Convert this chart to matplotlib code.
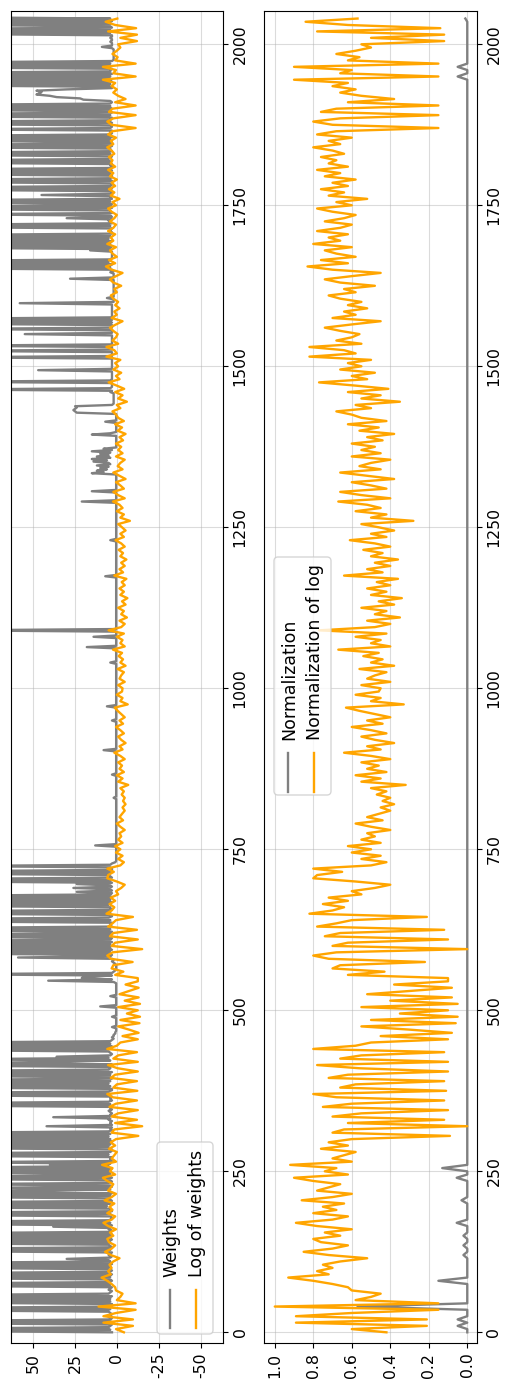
import matplotlib
matplotlib.use("Agg")
import matplotlib.pyplot as plt
from matplotlib.transforms import IdentityTransform
from matplotlib.patches import FancyBboxPatch
from matplotlib.lines import Line2D

H = 99  # weight value beyond the visible range (clipped at the panel edge)

# index positions: weights are read every 2 steps, the other series every 5
weight_index = list(range(0, 2043, 2))
index = list(range(0, 2045, 5))

weights = [
    3, H, 4, H, 5, 4, 3, H, 3, H, 4, 3, 5, 4, 3, 4, 5, H, 4, H, 4, 3, 3, H, 4,
    H, 4, H, 3, H, 5, 4, 3, 5, 4, 3, H, 4, H, 5, 3, 4, H, 4, H, 3, H, 4, 3, 5,
    H, 4, H, 3, H, 4, 5, 30, 4, 3, 5, 4, 3, H, 4, H, 3, 4, 5, H, 4, H, 3, H, 4,
    H, 3, H, 4, 3, 5, 4, 38, 3, H, 4, H, 5, 3, 3, 4, H, 4, H, 3, 4, 4, H, 6, H,
    4, H, 3, 4, 5, H, 4, H, 3, H, 45, 4, H, 3, 4, H, 5, 3, 4, H, 3, H, 5, 4, H,
    4, H, 3, H, 5, 40, 4, H, 3, 4, 4, 3, H, 5, H, 4, 3, 3, H, 5, H, 4, H, 3, H,
    4, H, 5, H, 4, H, 5, 3, 4, 3, 42, 3, 4, 4, 3, 5, 4, 38, 3, 4, 3, 4, 5, 3, 4,
    3, H, 4, H, 5, 3, 4, 4, 3, H, 4, H, 5, 3, 3, H, 4, H, 5, H, 4, H, 3, 4, H,
    4, H, 3, H, 5, 4, 4, H, 3, H, 30, 4, H, 5, 36, 4, 3, 4, 5, H, 4, H, 3, H, 4,
    H, 4, 3, 2, 3, 2, 2, 1, 1, .5, .5, .5, 3, .5, .5, .5, .5, .5, .5, .5, 3, .5, .5, .5, .5,
    .5, .5, .5, 10, .5, .5, .5, .5, .5, .5, .5, 4, .5, .5, .5, .5, .5, .5, .5, .5, .5, .5, 2, 41, 3,
    21, 20, 3, H, 3, 2, 1, .5, .5, .5, .5, 1, 2, 3, 2, 3, 59, 4, 3, H, 4, H, 3, H, 4,
    H, 4, H, 3, H, 4, 3, H, 4, H, 4, 3, H, 4, H, 3, 4, 4, 3, H, 4, H, 5, 3, 3,
    H, 4, H, 3, 4, 4, H, 5, H, 3, H, 4, H, 3, H, 4, 3, 24, 3, 4, 26, 3, 4, 24, 3,
    H, 4, H, 3, 4, 5, H, 4, H, 3, 3, 4, H, 4, 3, 1, .5, .5, .5, .5, .5, .5, .5, .5, .5,
    .5, .5, .5, 13, .5, .5, .5, .5, .5, .5, .5, .5, .5, .5, .5, .5, .5, .5, .5, .5, .5, .5, .5, .5, .5,
    .5, .5, .5, .5, .5, .5, .5, .5, .5, .5, .5, .5, .5, .5, .5, 2, .5, .5, .5, .5, .5, .5, .5, .5, .5,
    .5, .5, .5, .5, .5, .5, .5, .5, 3, .5, .5, .5, .5, .5, .5, .5, .5, .5, .5, .5, .5, .5, .5, .5, .5,
    .5, .5, 8, .5, .5, .5, .5, .5, .5, .5, .5, .5, .5, .5, .5, .5, .5, .5, .5, .5, .5, .5, .5, .5, .5,
    3, .5, .5, .5, .5, .5, .5, .5, .5, .5, .5, 6, .5, .5, .5, .5, .5, .5, .5, .5, .5, .5, .5, .5, .5,
    .5, .5, .5, .5, .5, .5, .5, .5, .5, .5, .5, .5, .5, .5, .5, .5, .5, .5, .5, .5, 4, .5, .5, .5, .5,
    .5, .5, .5, .5, .5, .5, .5, 18, .5, .5, .5, .5, .5, .5, .5, 14, .5, .5, .5, .5, H, .5, .5, .5, .5,
    .5, .5, .5, .5, .5, .5, .5, .5, .5, .5, .5, .5, .5, .5, .5, .5, .5, .5, .5, .5, .5, .5, .5, .5, .5,
    .5, .5, .5, .5, .5, .5, .5, .5, .5, .5, .5, .5, 7, .5, .5, .5, .5, .5, .5, .5, .5, .5, .5, .5, .5,
    .5, .5, .5, .5, .5, .5, .5, .5, .5, .5, .5, .5, .5, .5, .5, 4, .5, .5, .5, .5, .5, .5, .5, .5, .5,
    .5, .5, .5, .5, .5, .5, .5, .5, .5, .5, .5, .5, .5, .5, .5, .5, .5, .5, .5, .5, 21, .5, .5, .5, .5,
    .5, .5, .5, 15, .5, .5, .5, .5, .5, .5, .5, .5, .5, .5, .5, .5, .5, 15, 8, 12, 6, 10, 5, 12, 4,
    5, 14, 6, 15, 4, 12, 5, 10, 4, 15, 3, 8, .5, .5, .5, .5, .5, .5, .5, .5, .5, .5, 15, 4, .5,
    .5, .5, .5, .5, .5, .5, .5, 7, .5, .5, .5, .5, .5, .5, 24, 25, 26, 25, 24, 25, 3, 2, 2, 2, 2,
    2, 2, 2, 2, 2, 4, 3, H, 4, 3, 3, 3, 3, H, 4, 3, 3, 3, 3, 3, 3, 3, 47, 3, 3,
    3, 3, 3, 3, 3, 3, 3, H, 3, 3, 3, 3, H, 3, 3, 3, H, 3, 3, 3, 3, 3, 3, 3, 3,
    55, 3, 3, 3, H, 3, 3, 3, H, 3, H, 3, H, 3, 3, 3, 3, 3, 3, 3, 3, 3, 3, 3, 58,
    2, 2, 2, 6, 2, 2, 2, 2, 2, 2, 2, 2, 2, 2, 2, 2, 2, 2, 28, 2, 2, 2, 2, 4, 2,
    3, H, 4, H, 3, H, 5, H, 4, 3, 3, 3, 3, 3, 3, 16, 4, H, 3, H, 4, H, 3, H, 5,
    H, 4, H, 3, 3, 4, 4, 3, H, 4, H, 3, 4, 5, 3, 30, 3, 4, H, 3, 4, 4, H, 3, H,
    4, 3, H, 4, H, 3, 4, 3, 45, 4, 3, 4, H, 3, H, 4, 3, 4, H, 3, H, 4, 3, 3, H,
    4, H, 3, H, 4, 3, 4, 3, H, 4, H, 5, 4, 3, H, 4, H, 3, 4, 4, H, 3, H, 4, 3,
    H, 4, H, 3, H, 4, 3, 4, 3, H, 4, 3, 4, H, 3, H, 4, 4, 3, H, 4, H, 3, 4, H,
    3, H, 4, H, 4, 3, 4, 20, 22, 36, 40, 48, 46, 45, 48, 30, 3, 4, H, 4, H, 3, H, 4, H,
    4, H, 3, H, 4, 4, 3, H, 4, H, 4, H, 3, 2, 2, 2, 2, 2, 2, 2, 2, 2, 3, 9, 3,
    3, 3, 4, 3, 3, 4, 3, 3, H, 4, H, 4, H, 3, 4, H, 4, H, 3, H, 4, H,
]

log_weights = [
    -4.1, 0.6, -9.5, 8.1, -9.5, 8.1, 0.6, -11.1, 11.0, -11.1,
    0.1, -2.0, -3.3, 0.6, 1.1, 3.2, 5.8, 9.2, 3.7, 5.3,
    3.2, 4.5, 2.2, -1.5, 3.7, 7.1, 3.2, 1.1, 4.8, 5.8,
    2.2, 4.2, 0.6, 5.3, 8.1, 3.2, 1.1, 5.8, 2.7, 4.5,
    1.6, 7.4, 3.2, 0.6, 5.3, 3.7, 2.2, 5.8, 8.4, 1.1,
    4.2, 2.7, 8.9, 0.6, 3.2, 1.6, 0.1, 4.8, 1.1, 3.7,
    0.6, -12.7, 3.2, 1.6, -15.0, 1.1, -11.9, 3.2, -0.7, -12.4,
    4.5, 0.6, -11.9, 2.7, 5.8, -12.1, 2.2, 0.1, -11.9, 3.7,
    1.1, -12.4, -0.4, 5.3, -12.4, 2.2, -0.7, -11.9, 5.8, 0.1,
    -2.0, -12.4, -3.3, -12.9, -7.2, -0.7, -13.4, -2.0, -13.7, -5.9,
    -12.4, -0.7, -13.7, -4.6, -12.9, -1.5, -7.2, -12.9, -5.1, -12.4,
    -12.4, 1.1, -3.8, 3.2, 2.2, -9.3, 3.7, 5.8, 2.7, -15.0,
    3.2, 1.1, -12.4, 4.2, 2.2, -11.9, 5.3, 2.7, 0.6, -9.5,
    6.3, 3.2, 1.6, 4.5, 1.1, 3.7, -0.7, 0.6, -2.5, -4.6,
    0.1, 5.8, 5.3, 1.9, 5.8, -2.0, -4.1, -0.7, -3.3, 0.6,
    -2.0, 1.1, -3.3, -0.7, -2.5, -1.5, -4.6, -2.0, 0.1, -3.6,
    -1.5, -3.0, -4.6, -3.3, -5.1, -3.6, -4.6, -2.8, -4.1, -2.0,
    -6.7, -0.7, -3.3, 0.1, -4.1, -1.5, -3.0, -0.7, -4.6, -2.0,
    1.6, -3.3, -1.5, -5.1, -2.5, -0.7, -4.1, -2.0, 0.6, -3.6,
    -1.5, -4.6, -2.5, -0.4, 1.4, -6.4, -2.0, -3.3, 0.1, -3.0,
    -3.3, -0.7, -4.6, -1.5, -2.5, -4.1, -0.4, -5.1, -2.0, -3.6,
    -1.0, -3.0, 2.4, -4.6, -2.0, -3.3, 0.1, -4.1, 5.0, -2.5,
    -4.6, -1.5, -5.9, -2.5, -4.1, -0.7, -5.1, -3.0, -6.2, -2.0,
    -4.1, -1.5, -4.6, -2.8, -5.6, 1.6, -3.6, -1.5, -4.6, -2.5,
    -5.6, -2.0, -3.6, -1.0, -4.6, -2.5, 0.9, -4.1, -2.0, -5.1,
    -3.0, -0.7, -7.7, -2.0, -4.1, 0.1, -3.3, -1.5, 2.4, -4.6,
    -0.7, 2.2, -4.1, -2.0, 0.6, -5.1, -1.5, 2.2, -3.3, -0.4,
    -2.0, -4.6, 0.6, -3.3, -0.7, -2.5, 0.6, -3.6, -1.5, -5.1,
    -0.4, -3.0, 1.1, -4.1, -0.7, 0.6, 2.7, -2.0, 0.1, -5.9,
    -0.7, -3.3, 1.1, -4.3, 0.1, 5.0, -1.5, 0.6, -2.5, 2.2,
    -0.7, 1.1, -2.0, 6.3, 0.1, 1.6, 6.3, -0.7, 2.7, 0.6,
    -0.4, 2.2, 4.2, 0.6, -3.3, 3.2, 0.1, 1.6, -1.5, 1.1,
    -0.7, 2.2, 3.7, 0.1, 1.6, -2.5, 2.2, 4.2, 0.6, -3.3,
    3.2, 6.6, 1.1, 4.8, 0.1, 2.7, 4.2, 0.6, 5.8, 2.2,
    3.7, 1.1, 5.3, 2.2, 0.6, 4.2, 1.6, 0.1, 3.2, 5.3,
    0.6, 2.7, -1.5, 3.7, 1.6, 4.8, 1.1, 3.2, 0.1, 4.2,
    2.2, 5.3, 1.1, 3.7, 2.7, 4.8, 1.6, 3.2, 5.8, 2.2,
    3.7, 0.6, 5.3, 2.7, -11.1, 3.2, 5.8, 2.2, -11.1, 4.8,
    2.7, -11.1, 1.1, -5.1, -0.7, 2.2, 0.1, 3.2, 1.1, 8.4,
    -11.1, 2.2, 0.6, 8.4, -11.1, 1.1, -0.4, 2.7, 0.1, -2.0,
    -0.7, -11.9, -2.0, -11.9, 5.3, -11.4, 1.1, 6.8, -0.2,
]

norm_weights = [
    0, 0, .05, 0, .05, 0, 0, 0, .57, 0,
    0, 0, 0, 0, 0, 0, .15, 0, 0, 0,
    0, 0, 0, 0, .02, 0, 0, .02, 0, 0,
    .02, 0, 0, 0, .055, 0, 0, 0, 0, 0,
    0, .03, 0, 0, 0, 0, 0, 0, .055, 0,
    0, .13, 0, 0, 0, 0, 0, 0, 0, 0,
    0, 0, 0, 0, 0, 0, 0, 0, 0, 0,
    0, 0, 0, 0, 0, 0, 0, 0, 0, 0,
    0, 0, 0, 0, 0, 0, 0, 0, 0, 0,
    0, 0, 0, 0, 0, 0, 0, 0, 0, 0,
    0, 0, 0, 0, 0, 0, 0, 0, 0, 0,
    0, 0, 0, 0, 0, 0, 0, 0, 0, 0,
    0, 0, 0, 0, 0, 0, 0, 0, 0, 0,
    0, 0, 0, 0, 0, 0, 0, 0, 0, 0,
    0, 0, 0, 0, 0, 0, 0, 0, 0, 0,
    0, 0, 0, 0, 0, 0, 0, 0, 0, 0,
    0, 0, 0, 0, 0, 0, 0, 0, 0, 0,
    0, 0, 0, 0, 0, 0, 0, 0, 0, 0,
    0, 0, 0, 0, 0, 0, 0, 0, 0, 0,
    0, 0, 0, 0, 0, 0, 0, 0, 0, 0,
    0, 0, 0, 0, 0, 0, 0, 0, 0, 0,
    0, 0, 0, 0, 0, 0, 0, 0, 0, 0,
    0, 0, 0, 0, 0, 0, 0, 0, 0, 0,
    0, 0, 0, 0, 0, 0, 0, 0, 0, 0,
    0, 0, 0, 0, 0, 0, 0, 0, 0, 0,
    0, 0, 0, 0, 0, 0, 0, 0, 0, 0,
    0, 0, 0, 0, 0, 0, 0, 0, 0, 0,
    0, 0, 0, 0, 0, 0, 0, 0, 0, 0,
    0, 0, 0, 0, 0, 0, 0, 0, 0, 0,
    0, 0, 0, 0, 0, 0, 0, 0, 0, 0,
    0, 0, 0, 0, 0, 0, 0, 0, 0, 0,
    0, 0, 0, 0, 0, 0, 0, 0, 0, 0,
    0, 0, 0, 0, 0, 0, 0, 0, 0, 0,
    0, 0, 0, 0, 0, 0, 0, 0, 0, 0,
    0, 0, 0, 0, 0, 0, 0, 0, 0, 0,
    0, 0, 0, 0, 0, 0, 0, 0, 0, 0,
    0, 0, 0, 0, 0, 0, 0, 0, 0, 0,
    0, 0, 0, 0, 0, 0, 0, 0, 0, 0,
    0, 0, 0, 0, 0, 0, 0, 0, 0, 0,
    .05, 0, 0, .05, 0, 0, 0, 0, 0, 0,
    0, 0, 0, 0, 0, 0, 0, 0, .01,
]

norm_log = [
    .42, .60, .21, .89, .21, .89, .60, .15, 1.00, .15,
    .58, .50, .45, .60, .62, .70, .80, .93, .72, .78,
    .70, .75, .66, .52, .72, .85, .70, .62, .76, .80,
    .66, .74, .60, .78, .89, .70, .62, .80, .68, .75,
    .64, .86, .70, .60, .78, .72, .66, .80, .90, .62,
    .74, .68, .92, .60, .70, .64, .58, .76, .62, .72,
    .60, .09, .70, .64, .00, .62, .12, .70, .55, .10,
    .75, .60, .12, .68, .80, .11, .66, .58, .12, .72,
    .62, .10, .56, .78, .10, .66, .55, .12, .80, .58,
    .50, .10, .45, .08, .30, .55, .06, .50, .05, .35,
    .10, .55, .05, .40, .08, .52, .30, .08, .38, .10,
    .10, .62, .43, .70, .66, .22, .72, .80, .68, .00,
    .70, .62, .10, .74, .66, .12, .78, .68, .60, .21,
    .82, .70, .64, .75, .62, .72, .55, .60, .48, .40,
    .58, .80, .78, .65, .80, .50, .42, .55, .45, .60,
    .50, .62, .45, .55, .48, .52, .40, .50, .58, .44,
    .52, .46, .40, .45, .38, .44, .40, .47, .42, .50,
    .32, .55, .45, .58, .42, .52, .46, .55, .40, .50,
    .64, .45, .52, .38, .48, .55, .42, .50, .60, .44,
    .52, .40, .48, .56, .63, .33, .50, .45, .58, .46,
    .45, .55, .40, .52, .48, .42, .56, .38, .50, .44,
    .54, .46, .67, .40, .50, .45, .58, .42, .77, .48,
    .40, .52, .35, .48, .42, .55, .38, .46, .34, .50,
    .42, .52, .40, .47, .36, .64, .44, .52, .40, .48,
    .36, .50, .44, .54, .40, .48, .61, .42, .50, .38,
    .46, .55, .28, .50, .42, .58, .45, .52, .67, .40,
    .55, .66, .42, .50, .60, .38, .52, .66, .45, .56,
    .50, .40, .60, .45, .55, .48, .60, .44, .52, .38,
    .56, .46, .62, .42, .55, .60, .68, .50, .58, .35,
    .55, .45, .62, .41, .58, .77, .52, .60, .48, .66,
    .55, .62, .50, .82, .58, .64, .82, .55, .68, .60,
    .56, .66, .74, .60, .45, .70, .58, .64, .52, .62,
    .55, .66, .72, .58, .64, .48, .66, .74, .60, .45,
    .70, .83, .62, .76, .58, .68, .74, .60, .80, .66,
    .72, .62, .78, .66, .60, .74, .64, .58, .70, .78,
    .60, .68, .52, .72, .64, .76, .62, .70, .58, .74,
    .66, .78, .62, .72, .68, .76, .64, .70, .80, .66,
    .72, .60, .78, .68, .15, .70, .80, .66, .15, .76,
    .68, .15, .62, .38, .55, .66, .58, .70, .62, .90,
    .15, .66, .60, .90, .15, .62, .56, .68, .58, .50,
    .55, .12, .50, .12, .78, .14, .62, .84, .57,
]

idx_ticks = list(range(0, 2001, 250))
w_ticks = [50, 25, 0, -25, -50]
n_ticks = [1.0, 0.8, 0.6, 0.4, 0.2, 0.0]

WPX, HPX = 505, 1384
fig = plt.figure(figsize=(WPX / 100, HPX / 100), dpi=100)


def rect(x0, y0, x1, y1):
    return [x0 / WPX, 1 - y1 / HPX, (x1 - x0) / WPX, (y1 - y0) / HPX]


ax1 = fig.add_axes(rect(11, 11, 223, 1343))
ax2 = fig.add_axes(rect(264, 11, 476.7, 1343))

LW = 1.7
ax1.plot(weights, weight_index, color="gray", lw=LW, zorder=2)
ax1.plot(log_weights, index, color="orange", lw=LW, zorder=3)
ax2.plot(norm_weights, index, color="gray", lw=LW, zorder=2)
ax2.plot(norm_log, index, color="orange", lw=LW, zorder=3)

TICK_FS = 11.3
for ax, xt, xl, lims in [
    (ax1, w_ticks, [str(v) for v in w_ticks], (63.2, -63.2)),
    (ax2, n_ticks, ["%.1f" % v for v in n_ticks], (1.056, -0.049)),
]:
    ax.set_xlim(*lims)
    ax.set_ylim(-16.6, 2051.7)
    ax.set_xticks(xt)
    ax.set_xticklabels(xl, rotation=90, fontsize=TICK_FS)
    ax.yaxis.tick_right()
    ax.set_yticks(idx_ticks)
    ax.set_yticklabels([str(v) for v in idx_ticks], rotation=90,
                       va="center", fontsize=TICK_FS)
    ax.grid(True, color="#b0b0b0", alpha=0.45, lw=0.8)
    ax.set_axisbelow(True)
    ax.tick_params(length=3.5, width=0.8)

# Legends (drawn as rotated text, matching the rotated layout)
tr = IdentityTransform()
LEG_FS = 12.5


def legend_box(x0, y0, x1, y1, items):
    box = FancyBboxPatch((x0, HPX - y1), x1 - x0, y1 - y0,
                         boxstyle="round,pad=0,rounding_size=4",
                         transform=tr, facecolor=(1, 1, 1, 0.8),
                         edgecolor=(0.8, 0.8, 0.8, 0.8), lw=1.0, zorder=5)
    fig.add_artist(box)
    for (hx, hy0, hy1, color, tx, ty, label) in items:
        fig.add_artist(Line2D([hx, hx], [HPX - hy1, HPX - hy0], transform=tr,
                              color=color, lw=LW, zorder=6))
        fig.text(tx, HPX - ty, label, transform=tr, rotation=90,
                 ha="center", va="bottom", fontsize=LEG_FS, zorder=7)


legend_box(157, 1142, 213, 1334, [
    (169.5, 1290, 1328, "gray", 171.5, 1277, "Weights"),
    (196, 1290, 1328, "orange", 197.5, 1277, "Log of weights"),
])
legend_box(274, 557, 331, 795, [
    (288, 753, 791.5, "gray", 289.5, 740, "Normalization"),
    (314, 753, 791.5, "orange", 315.5, 740, "Normalization of log"),
])

fig.savefig("out.png", dpi=100)
